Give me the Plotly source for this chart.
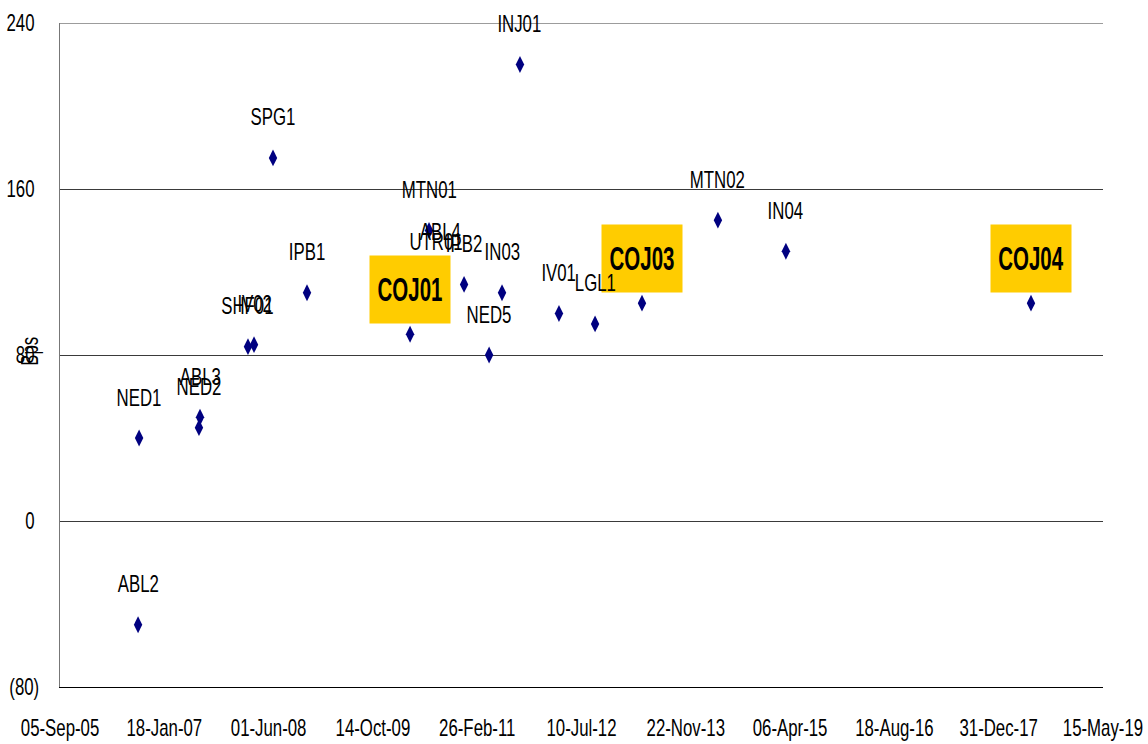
import plotly.graph_objects as go

# Bond issues: issue date and spread (bps)
issuers = ["ABL2", "NED1", "NED2", "ABL3", "SHF01", "IV02", "SPG1", "IPB1",
           "COJ01", "MTN01", "UTR01", "ABL4", "IPB2", "NED5", "IN03", "INJ01",
           "IV01", "LGL1", "COJ03", "MTN02", "IN04", "COJ04"]
issue_dates = ["2006-09-14", "2006-09-19", "2007-07-03", "2007-07-08", "2008-02-23",
               "2008-03-23", "2008-06-22", "2008-12-02", "2010-04-10", "2010-07-10",
               "2010-08-12", "2010-09-01", "2010-12-25", "2011-04-24", "2011-06-25",
               "2011-09-19", "2012-03-24", "2012-09-13", "2013-04-26", "2014-04-25",
               "2015-03-17", "2018-06-04"]
spreads_bps = [-50, 40, 45, 50, 84, 85, 175, 110, 90, 140, 115, 120, 114, 80, 110,
               220, 100, 95, 105, 145, 130, 105]

# Own-issuer bonds get a highlighted label
highlighted = ["COJ01", "COJ03", "COJ04"]

x_tick_dates = ["2005-09-05", "2007-01-18", "2008-06-01", "2009-10-14", "2011-02-26",
                "2012-07-10", "2013-11-22", "2015-04-06", "2016-08-18", "2017-12-31",
                "2019-05-15"]
x_tick_labels = ["05-Sep-05", "18-Jan-07", "01-Jun-08", "14-Oct-09", "26-Feb-11",
                 "10-Jul-12", "22-Nov-13", "06-Apr-15", "18-Aug-16", "31-Dec-17",
                 "15-May-19"]
y_tick_values = [-80, 0, 80, 160, 240]
# accounting style: positives padded so digits line up with the bracketed negative
y_tick_labels = ["(80)", "0\u00a0", "80\u00a0", "160\u00a0", "240\u00a0"]

FONT = "Liberation Sans, Arial, sans-serif"
GRID = "#3a3a3a"

fig = go.Figure()
fig.add_trace(go.Scatter(
    x=issue_dates, y=spreads_bps, mode="markers",
    marker=dict(symbol="diamond-tall", size=12, color="#000080",
                line=dict(width=0)),
    hoverinfo="text", text=issuers, showlegend=False,
))

box_labels = []
plain_labels = []
for name, d, v in zip(issuers, issue_dates, spreads_bps):
    if name in highlighted:
        box_labels.append(dict(
            x=d, y=v, xref="x", yref="y", text="<b>" + name + "</b>",
            showarrow=False, xanchor="center", yanchor="middle", yshift=45,
            width=78, height=65, bgcolor="#FFCC00", align="center", valign="middle",
            font=dict(family=FONT, size=33, color="#000000"),
        ))
    else:
        plain_labels.append(dict(
            x=d, y=v, xref="x", yref="y", text=name,
            showarrow=False, xanchor="center", yanchor="middle", yshift=41,
            font=dict(family=FONT, size=24, color="#000000"),
        ))

# Highlight boxes first; plain labels are drawn over them
annotations = box_labels + plain_labels
annotations.append(dict(
    x=0, y=80, xref="paper", yref="y", text="Bps", textangle=-90,
    showarrow=False, xanchor="center", yanchor="middle", xshift=-31, yshift=3,
    font=dict(family=FONT, size=24, color="#000000"),
))

fig.update_layout(
    width=1148, height=744,
    margin=dict(l=60, r=45, t=23, b=57, autoexpand=False),
    paper_bgcolor="white", plot_bgcolor="white",
    font=dict(family=FONT, size=24, color="#000000"),
    annotations=annotations,
    shapes=[dict(type="line", xref="paper", yref="y", x0=0, x1=1,
                 y0=y_tick_values[-1], y1=y_tick_values[-1],
                 line=dict(color=GRID, width=1))],
    xaxis=dict(
        range=["2005-09-04 18:00", "2019-05-15 06:00"],
        tickmode="array", tickvals=x_tick_dates, ticktext=x_tick_labels,
        tickangle=0, ticklabeloverflow="allow",
        showgrid=False, zeroline=False, ticks="", automargin=False,
        showline=True, linecolor="#000000", linewidth=1,
        ticklabelstandoff=19,
        tickfont=dict(family=FONT, size=24, color="#000000"),
    ),
    yaxis=dict(
        range=[-80, 240],
        tickmode="array", tickvals=y_tick_values, ticktext=y_tick_labels,
        ticklabeloverflow="allow",
        showgrid=True, gridcolor=GRID, gridwidth=1,
        zeroline=False, ticks="", automargin=False,
        showline=True, linecolor="#777777", linewidth=1,
        ticklabelstandoff=15,
        tickfont=dict(family=FONT, size=24, color="#000000"),
    ),
)

# Narrow the lettering horizontally (condensed look) while keeping it real SVG text
squeeze_js = """
(function(){
  var gd = document.getElementById('{plot_id}');
  function squeeze(){
    gd.querySelectorAll('svg text').forEach(function(t){
      if (t.getAttribute('data-sq')) return;
      var w = t.getComputedTextLength();
      if (!w) return;
      var bold = t.innerHTML.indexOf('bold') >= 0 || t.style.fontWeight === 'bold';
      var f = bold ? 0.62 : 0.70;
      t.setAttribute('textLength', (w * f).toFixed(2));
      t.setAttribute('lengthAdjust', 'spacingAndGlyphs');
      t.setAttribute('data-sq', '1');
    });
  }
  squeeze();
  if (gd.on) gd.on('plotly_afterplot', squeeze);
})();
"""

fig.write_html("out.html", post_script=squeeze_js)
